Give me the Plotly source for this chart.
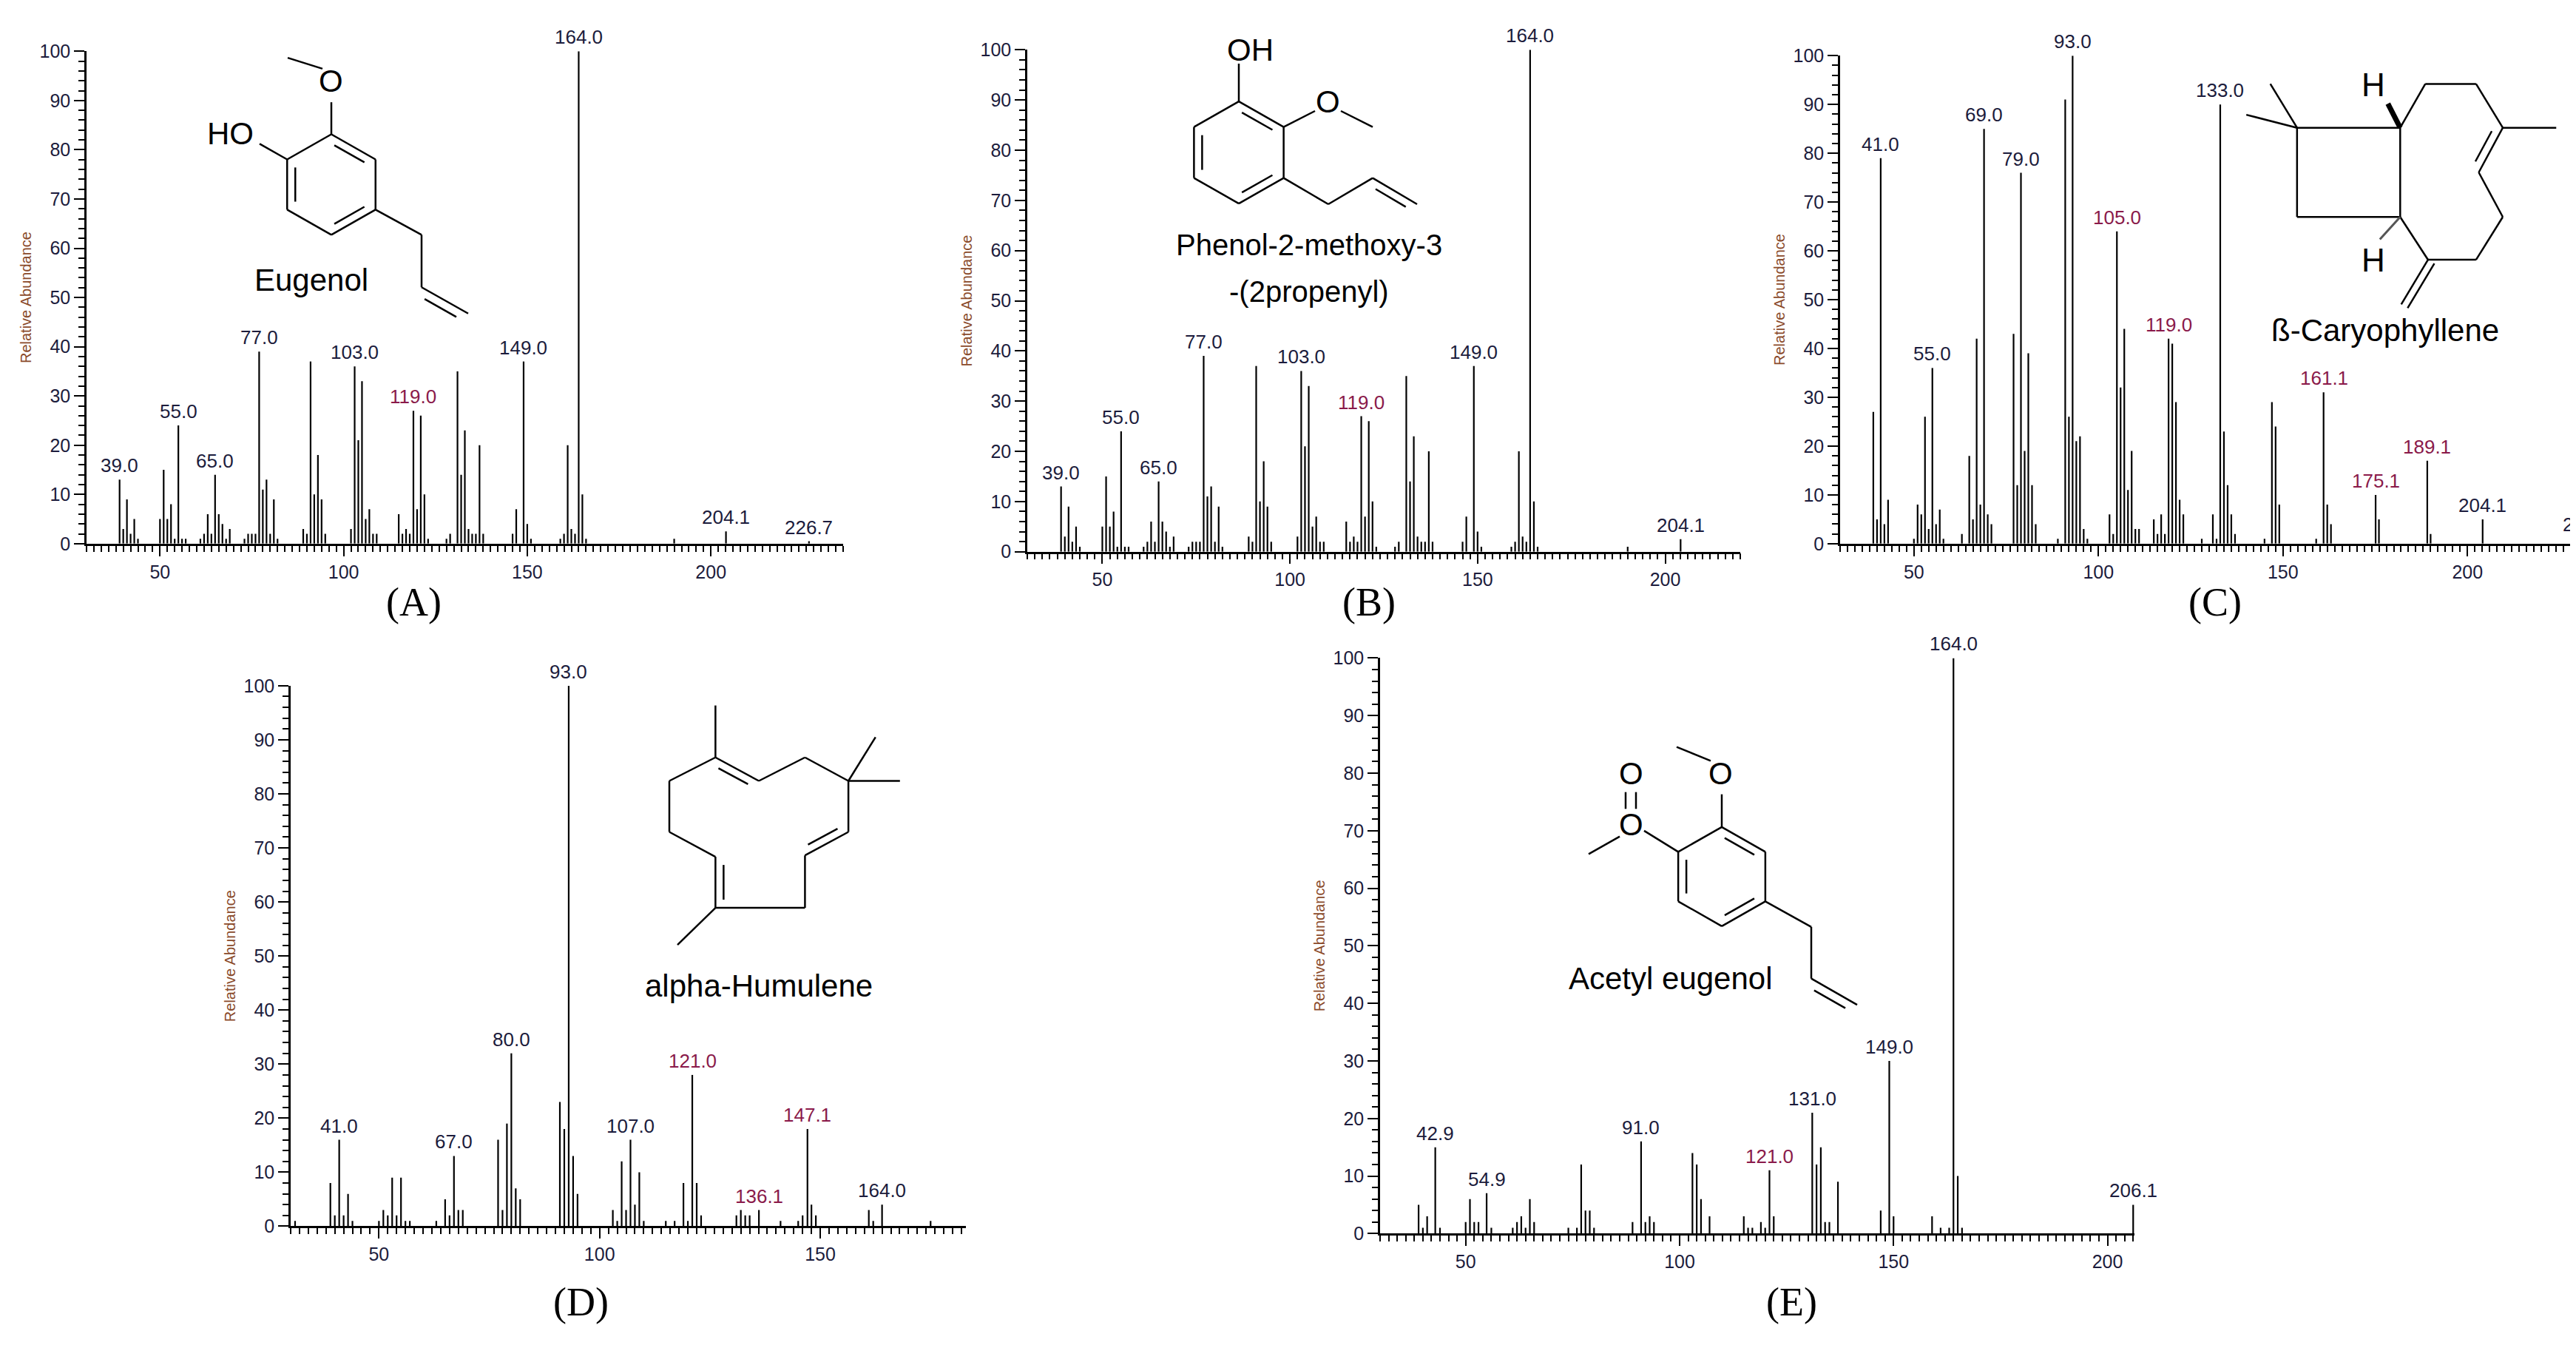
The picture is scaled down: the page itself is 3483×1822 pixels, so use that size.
import plotly.graph_objects as go

W, H = 3483, 1822

# ---------------- data ----------------
a_mz = [39,40,41,42,43,44,50,51,52,53,54,55,56,57,61,62,63,64,65,66,67,68,69,73,74,75,76,77,78,79,80,81,82,89,90,91,92,93,94,95,102,103,104,105,106,107,108,109,115,116,117,118,119,120,121,122,123,128,129,131,132,133,134,135,136,137,138,146,147,149,150,151,159,160,161,162,163,164,165,166,190,204.1,226.7]
a_ab = [13,3,9,2,5,1,5,15,5,8,1,24,1,1,1,2,6,2,14,6,4,1,3,1,2,2,2,39,11,13,2,9,1,3,2,37,10,18,9,2,3,36,21,33,5,7,2,2,6,2,3,2,27,7,26,10,1,1,2,35,14,23,3,2,2,20,2,2,7,37,4,1,1,2,20,3,2,100,10,1,1,2.5,0.5]
a_lab = [39.0,55.0,65.0,77.0,103.0,119.0,149.0,164.0,204.1,226.7]

b_mz = [39,40,41,42,43,44,50,51,52,53,54,55,56,57,61,62,63,64,65,66,67,68,69,73,74,75,76,77,78,79,80,81,82,89,90,91,92,93,94,95,102,103,104,105,106,107,108,109,115,116,117,118,119,120,121,122,123,128,129,131,132,133,134,135,136,137,138,146,147,149,150,151,159,160,161,162,163,164,165,166,190,204.1]
b_ab = [13,3,9,2,5,1,5,15,5,8,1,24,1,1,1,2,6,2,14,6,4,1,3,1,2,2,2,39,11,13,2,9,1,3,2,37,10,18,9,2,3,36,21,33,5,7,2,2,6,2,3,2,27,7,26,10,1,1,2,35,14,23,3,2,2,20,2,2,7,37,4,1,1,2,20,3,2,100,10,1,1,2.5]
b_lab = [39.0,55.0,65.0,77.0,103.0,119.0,149.0,164.0,204.1]

c_mz = [39,40,41,42,43,50,51,52,53,54,55,56,57,58,63,65,66,67,68,69,70,71,77,78,79,80,81,82,83,89,91,92,93,94,95,96,97,103,104,105,106,107,108,109,110,111,115,116,117,118,119,120,121,122,123,128,131,132,133,134,135,136,137,145,147,148,149,159,161,162,163,175.1,176,189.1,190,204.1,230]
c_ab = [27,5,79,4,9,1,8,6,26,3,36,4,7,1,2,18,5,42,8,85,6,4,43,12,76,19,39,12,4,1,91,26,100,21,22,3,1,6,2,64,32,44,11,19,3,3,5,2,6,2,42,41,29,9,6,1,6,1,90,23,12,6,2,1,29,24,8,1,31,8,4,10,5,17,2,5,1]
c_lab = [41.0,55.0,69.0,79.0,93.0,105.0,119.0,133.0,161.1,175.1,189.1,204.1,230.0]

d_mz = [31,39,40,41,42,43,44,50,51,52,53,54,55,56,57,63,65,66,67,68,69,77,78,79,80,81,82,91,92,93,94,95,103,104,105,106,107,108,109,110,115,117,119,120,121,122,123,131,132,133,134,136.1,141,145,146,147.1,148,149,161,162,164,175]
d_ab = [1,8,2,16,2,6,1,1,3,2,9,2,9,1,1,1,5,2,13,3,3,16,3,19,32,7,5,23,18,100,13,6,3,1,12,3,16,4,10,1,1,1,8,1,28,8,2,2,3,2,2,3,1,1,2,18,4,2,3,1,4,1]
d_lab = [41.0,67.0,80.0,93.0,107.0,121.0,136.1,147.1,164.0]

e_mz = [39,40,41,42.9,44,50,51,52,53,54.9,56,61,62,63,64,65,66,74,76,77,78,79,80,89,91,92,93,94,103,104,105,107,115,116,117,119,120,121,122,131,132,133,134,135,137,147,149,150,159,161,163,164,165,166,206]
e_ab = [5,1,3,15,1,2,6,2,2,7,1,1,2,3,1,6,2,1,1,12,4,4,1,2,16,2,3,2,14,12,6,3,3,1,1,2,1,11,3,21,12,15,2,2,9,4,30,3,3,1,1,100,10,1,5]
e_lab = [42.9,54.9,91.0,121.0,131.0,149.0,164.0,206.1]

x_ranges = {"A": [30, 236], "B": [30, 220], "C": [30, 231], "D": [30, 183], "E": [30, 206.3]}
red_labels = [119.0, 121.0, 161.1, 175.1, 189.1, 136.1, 147.1, 105.0]

panels = [
    ("A", a_mz, a_ab, a_lab, [109, 1132], [724, 48]),
    ("B", b_mz, b_ab, b_lab, [1381, 2345], [735, 46]),
    ("C", c_mz, c_ab, c_lab, [2480, 3483], [724, 54]),
    ("D", d_mz, d_ab, d_lab, [385, 1298], [1661, 919]),
    ("E", e_mz, e_ab, e_lab, [1858, 2878], [1671, 881]),
]

def px(x):
    return x / W

def py(y):
    return 1 - y / H

fig = go.Figure()
annotations = []
shapes = []
TXT = "#1c1c3c"

for i, (name, mz, ab, lab, xd, yd) in enumerate(panels):
    k = "" if i == 0 else str(i + 1)
    xs, ys = [], []
    for m, v in zip(mz, ab):
        xs += [m, m, None]
        ys += [0, v, None]
    fig.add_trace(go.Scatter(x=xs, y=ys, mode="lines", line=dict(color="black", width=2.2),
                             xaxis="x" + k, yaxis="y" + k, showlegend=False, hoverinfo="skip",
                             cliponaxis=False))
    fig.layout["xaxis" + k] = dict(domain=[px(xd[0]), min(1, px(xd[1]))], range=x_ranges[name],
                                   anchor="y" + k, showgrid=False, zeroline=False, showline=True,
                                   linecolor="black", linewidth=2.5, ticks="outside", ticklen=14,
                                   tickwidth=2, tickcolor="black", tickvals=[50, 100, 150, 200],
                                   ticktext=["50", "100", "150", "200"],
                                   tickfont=dict(family="Liberation Sans", size=25, color=TXT),
                                   minor=dict(dtick=2, tick0=0, ticklen=8, tickwidth=1.6,
                                              tickcolor="black", ticks="outside"))
    fig.layout["yaxis" + k] = dict(domain=[py(yd[0]), py(yd[1])], range=[0, 100], anchor="x" + k,
                                   showgrid=False, zeroline=False, showline=True, linecolor="black",
                                   linewidth=2.5, ticks="outside", ticklen=14, tickwidth=2,
                                   tickcolor="black", dtick=10,
                                   tickfont=dict(family="Liberation Sans", size=25, color=TXT),
                                   minor=dict(dtick=2, ticklen=8, tickwidth=1.6, tickcolor="black",
                                              ticks="outside"),
                                   title=dict(text="Relative Abundance", standoff=6,
                                              font=dict(family="Liberation Sans", size=20, color="#8a4a2a")))
    lookup = dict(zip(mz, ab))
    for L in lab:
        key = min(mz, key=lambda m: abs(m - L))
        v = lookup[key]
        col = "#8a1a4a" if L in red_labels else TXT
        annotations.append(dict(x=L, y=v, xref="x" + k, yref="y" + k, text=f"{L:.1f}" if L != 230.0 else "230",
                                showarrow=False, xanchor="center", yanchor="bottom", yshift=2,
                                font=dict(family="Liberation Sans", size=26, color=col)))

# ---------- structure drawing helpers (pixel space) ----------
def line(p, q, w=2.5, color="black"):
    shapes.append(dict(type="line", xref="paper", yref="paper", x0=px(p[0]), y0=py(p[1]),
                       x1=px(q[0]), y1=py(q[1]), line=dict(color=color, width=w)))

def poly(pts, closed=False):
    for a, b in zip(pts, pts[1:]):
        line(a, b)
    if closed:
        line(pts[-1], pts[0])

def inner(p, q, c, off=11, shrink=0.16):
    dx, dy = q[0] - p[0], q[1] - p[1]
    L = (dx * dx + dy * dy) ** 0.5
    nx, ny = -dy / L, dx / L
    mx, my = (p[0] + q[0]) / 2, (p[1] + q[1]) / 2
    if (c[0] - mx) * nx + (c[1] - my) * ny < 0:
        nx, ny = -nx, -ny
    a = (p[0] + dx * shrink + nx * off, p[1] + dy * shrink + ny * off)
    b = (q[0] - dx * shrink + nx * off, q[1] - dy * shrink + ny * off)
    line(a, b)

def text(x, y, s, size=40, family="Liberation Sans"):
    annotations.append(dict(x=px(x), y=py(y), xref="paper", yref="paper", text=s, showarrow=False,
                            xanchor="center", yanchor="middle",
                            font=dict(family=family, size=size, color="black")))

def ring(cx, cy, r):
    c, s = 0.866 * r, 0.5 * r
    v = [(cx, cy - r), (cx + c, cy - s), (cx + c, cy + s), (cx, cy + r), (cx - c, cy + s), (cx - c, cy - s)]
    poly(v, closed=True)
    for a, b in [(0, 1), (2, 3), (4, 5)]:
        inner(v[a], v[b], (cx, cy))
    return v

# panel letters
for t, (x, y) in {"(A)": (551, 804), "(B)": (1843, 804), "(C)": (2987, 804),
                  "(D)": (777, 1765), "(E)": (2414, 1765)}.items():
    text(x, y, t, 54, "Liberation Serif")

# A: Eugenol
v = ring(440, 231, 69)
line(v[0], (440, 118)); text(440, 89, "O", 42)
line((428, 72), (381, 57))
line(v[5], (343, 175)); text(303, 161, "HO", 42)
line(v[2], (562, 300)); line((562, 300), (562, 372)); line((562, 372), (625, 408))
inner((562, 372), (625, 408), (640, 370), off=-12)
text(413, 362, "Eugenol", 42)

# B: Phenol-2-methoxy-3-(2propenyl)
v = ring(1667, 187, 70)
line(v[0], (1667, 65)); text(1682, 46, "OH", 42)
line(v[1], (1770, 130)); text(1787, 117, "O", 42)
line((1805, 130), (1848, 152))
line(v[2], (1788, 258)); line((1788, 258), (1848, 222)); line((1848, 222), (1908, 258))
inner((1848, 222), (1908, 258), (1848, 300))
text(1762, 314, "Phenol-2-methoxy-3", 40)
text(1762, 378, "-(2propenyl)", 40)

# C: beta-Caryophyllene
def cpt(zx, zy):
    return (2350 + zx / 1.384, zy / 1.96)
poly([cpt(1035, 300), cpt(1228, 300), cpt(1228, 540), cpt(1035, 540)], closed=True)
line(cpt(1035, 300), cpt(985, 182)); line(cpt(1035, 300), cpt(940, 265))
poly([cpt(1228, 300), cpt(1275, 182), cpt(1370, 182), cpt(1420, 300), cpt(1375, 420),
      cpt(1420, 540), cpt(1370, 655), cpt(1280, 655), cpt(1228, 540)])
line(cpt(1420, 300), cpt(1520, 300))
inner(cpt(1420, 300), cpt(1375, 420), cpt(1300, 420))
line(cpt(1280, 655), cpt(1230, 775)); inner(cpt(1280, 655), cpt(1230, 775), cpt(1300, 780), off=10, shrink=0)
line(cpt(1228, 300), cpt(1205, 235), w=7)
line(cpt(1228, 540), cpt(1190, 600), w=3, color="#555")
text(*cpt(1178, 185), "H", 44); text(*cpt(1178, 655), "H", 44)
text(*cpt(1200, 845), "ß-Caryophyllene", 42)

# D: alpha-Humulene
def dpt(zx, zy):
    return (200 + zx / 1.363, 850 + zy / 1.613)
poly([dpt(1035, 270), dpt(1115, 322), dpt(1200, 270), dpt(1280, 322), dpt(1280, 435), dpt(1200, 487),
      dpt(1200, 603), dpt(1035, 603), dpt(1035, 490), dpt(950, 435), dpt(950, 322)], closed=True)
inner(dpt(1035, 270), dpt(1115, 322), dpt(1100, 450))
inner(dpt(1280, 435), dpt(1200, 487), dpt(1150, 400))
inner(dpt(1035, 490), dpt(1035, 603), dpt(1120, 540))
line(dpt(1035, 155), dpt(1035, 270))
line(dpt(1280, 322), dpt(1330, 225)); line(dpt(1280, 322), dpt(1375, 322))
line(dpt(1035, 603), dpt(965, 685))
text(*dpt(1115, 775), "alpha-Humulene", 42)

# E: Acetyl eugenol
v = ring(2320, 1181, 68)
line(v[0], (2320, 1068)); text(2318, 1039, "O", 42)
line((2305, 1022), (2259, 1003))
line(v[5], (2215, 1118)); text(2197, 1110, "O", 42)
line((2190, 1065), (2190, 1088)); line((2204, 1065), (2204, 1088))
text(2197, 1039, "O", 42)
line((2182, 1126), (2140, 1150))
line(v[2], (2441, 1250)); line((2441, 1250), (2441, 1321)); line((2441, 1321), (2503, 1357))
inner((2441, 1321), (2503, 1357), (2520, 1320), off=-12)
text(2251, 1321, "Acetyl eugenol", 42)

fig.update_layout(width=W, height=H, margin=dict(l=0, r=0, t=0, b=0), paper_bgcolor="white",
                  plot_bgcolor="white", annotations=annotations, shapes=shapes, showlegend=False)
fig.write_html("out.html")
